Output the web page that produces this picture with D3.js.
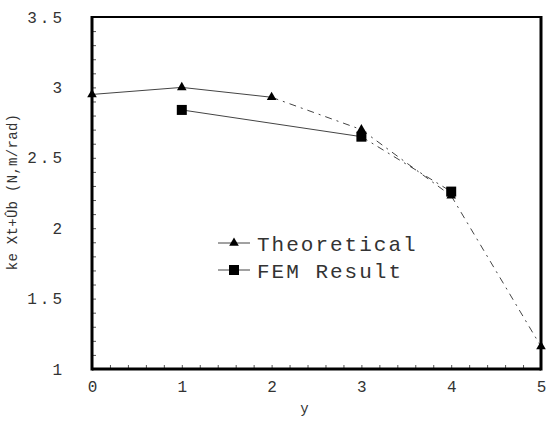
<!DOCTYPE html>
<html>
<head>
<meta charset="utf-8">
<script src="https://cdn.jsdelivr.net/npm/d3@7"></script>
<style>
  body { margin: 0; background: #fff; }
  text { font-family: "Liberation Mono", "DejaVu Sans Mono", monospace; fill: #333; }
</style>
</head>
<body>
<div id="chart"></div>
<script>
let xTicks = [0, 1, 2, 3, 4, 5];
let yTicks = [1, 1.5, 2, 2.5, 3, 3.5];
let yTickLabels = ["1", "1.5", "2", "2.5", "3", "3.5"];

let theoX = [0, 1, 2, 3, 4, 5];
let theoY = [2.95, 3.0, 2.93, 2.70, 2.23, 1.16];
let femX = [1, 3, 4];
let femY = [2.84, 2.65, 2.26];

let width = 549, height = 423;
let margin = {left: 92, right: 8, top: 17, bottom: 54};
let w = width - margin.left - margin.right;
let h = height - margin.top - margin.bottom;

let svg = d3.select("#chart")
    .append("svg")
        .attr("width", width)
        .attr("height", height)
    .append("g")
        .attr("transform", "translate(" + margin.left + "," + margin.top + ")");

let x = d3.scaleLinear().domain([0, 5]).range([0, w]);
let y = d3.scaleLinear().domain([1, 3.5]).range([h, 0]);

// minor ticks inside the frame
svg.append("g")
    .attr("transform", "translate(0," + h + ")")
    .call(d3.axisBottom(x).tickValues(d3.range(0, 5.01, 0.2)).tickSize(-4).tickFormat(""))
    .call(g => g.select(".domain").remove())
    .call(g => g.selectAll("line").attr("stroke", "#555"));
svg.append("g")
    .call(d3.axisLeft(y).tickValues(d3.range(1, 3.51, 0.1)).tickSize(-4).tickFormat(""))
    .call(g => g.select(".domain").remove())
    .call(g => g.selectAll("line").attr("stroke", "#555"));

// tick labels
svg.append("g")
    .attr("transform", "translate(0," + h + ")")
    .call(d3.axisBottom(x).tickValues(xTicks).tickSize(0).tickPadding(12).tickFormat(d3.format("d")))
    .call(g => g.select(".domain").remove())
    .call(g => g.selectAll("text").style("font-size", "16px").attr("fill", "#333"));
svg.append("g")
    .call(d3.axisLeft(y).tickValues(yTicks).tickSize(0).tickPadding(27).tickFormat((d, i) => yTickLabels[i]))
    .call(g => g.select(".domain").remove())
    .call(g => g.selectAll("text").style("font-size", "16px").attr("letter-spacing", "3px").attr("fill", "#333"));

// frame
svg.append("line").attr("x1", 0).attr("x2", w).attr("y1", 0).attr("y2", 0)
    .attr("stroke", "#000").attr("stroke-width", 2);
svg.append("line").attr("x1", 0).attr("x2", w).attr("y1", h).attr("y2", h)
    .attr("stroke", "#000").attr("stroke-width", 3);
svg.append("line").attr("x1", 0).attr("x2", 0).attr("y1", -1).attr("y2", h + 1.5)
    .attr("stroke", "#000").attr("stroke-width", 3);
svg.append("line").attr("x1", w).attr("x2", w).attr("y1", -1).attr("y2", h + 1.5)
    .attr("stroke", "#000").attr("stroke-width", 3);

// series lines, drawn segment by segment (later segments dashed like the scan)
function drawSegments(xs, ys, dashedFrom) {
    for (let i = 0; i < xs.length - 1; i++) {
        svg.append("line")
            .attr("x1", x(xs[i])).attr("y1", y(ys[i]))
            .attr("x2", x(xs[i + 1])).attr("y2", y(ys[i + 1]))
            .attr("stroke", "#444")
            .attr("stroke-width", 1)
            .attr("stroke-dasharray", i >= dashedFrom ? "7,5,2,5" : null);
    }
}
drawSegments(theoX, theoY, 2);
drawSegments(femX, femY, 1);

let tri = d3.symbol().type(d3.symbolTriangle).size(40);
svg.append("g")
    .selectAll("path")
    .data(theoX.map((d, i) => [d, theoY[i]]))
    .enter()
    .append("path")
    .attr("d", tri)
    .attr("transform", d => "translate(" + x(d[0]) + "," + y(d[1]) + ")")
    .attr("fill", "#000");

svg.append("g")
    .selectAll("rect")
    .data(femX.map((d, i) => [d, femY[i]]))
    .enter()
    .append("rect")
    .attr("x", d => x(d[0]) - 5)
    .attr("y", d => y(d[1]) - 5)
    .attr("width", 10)
    .attr("height", 10)
    .attr("fill", "#000");

// legend
let legend = svg.append("g").attr("transform", "translate(" + (218 - margin.left) + "," + (243 - margin.top) + ")");
legend.append("line").attr("x1", 0).attr("x2", 32).attr("y1", 0).attr("y2", 0).attr("stroke", "#444");
legend.append("path").attr("d", tri).attr("transform", "translate(16,0)").attr("fill", "#000");
legend.append("text").attr("x", 39).attr("y", 8).text("Theoretical")
    .style("font-size", "21px").attr("letter-spacing", "2px");
legend.append("line").attr("x1", 0).attr("x2", 32).attr("y1", 27).attr("y2", 27).attr("stroke", "#444");
legend.append("rect").attr("x", 11).attr("y", 22).attr("width", 10).attr("height", 10).attr("fill", "#000");
legend.append("text").attr("x", 39).attr("y", 35).text("FEM Result")
    .style("font-size", "21px").attr("letter-spacing", "2px");

// axis titles
svg.append("text")
    .attr("x", w / 2 - 12)
    .attr("y", h + 44)
    .attr("text-anchor", "middle")
    .style("font-size", "14px")
    .text("y");
svg.append("text")
    .attr("transform", "translate(-75," + (h / 2 - 1) + ") rotate(-90)")
    .attr("text-anchor", "middle")
    .style("font-size", "14px")
    .attr("letter-spacing", "0.3px")
    .text("ke  Xt+Ûb (N,m/rad)");
</script>
</body>
</html>
